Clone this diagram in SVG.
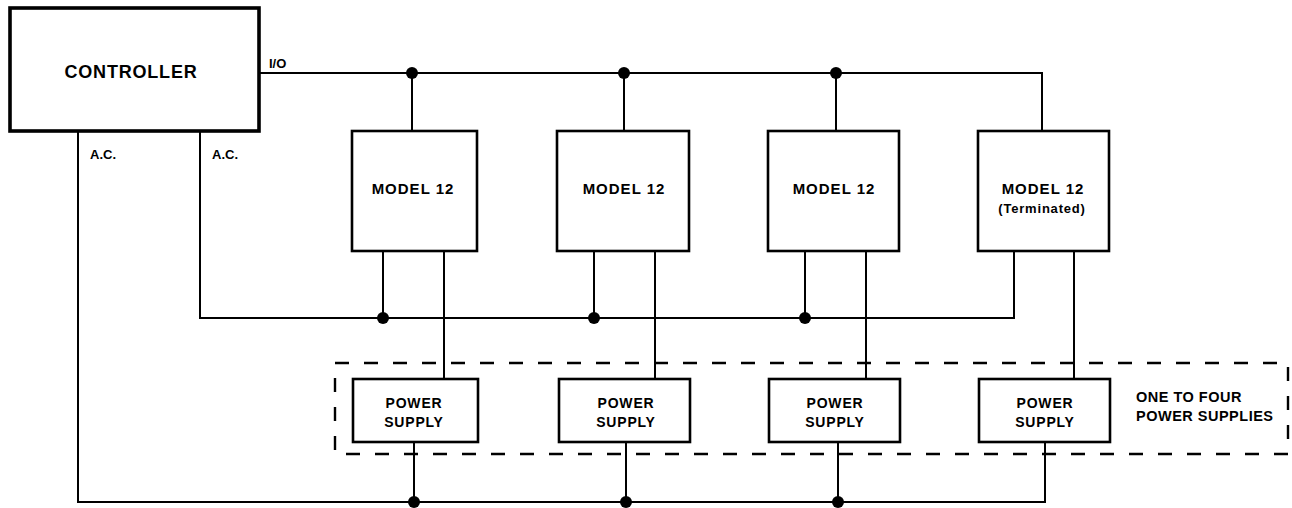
<svg xmlns="http://www.w3.org/2000/svg" width="1292" height="508" viewBox="0 0 1292 508">
<style>
.box{fill:#fff;stroke:#000;stroke-width:2.6}
.ctl{fill:#fff;stroke:#000;stroke-width:3.6}
.w{fill:none;stroke:#000;stroke-width:2}
.dash{fill:none;stroke:#000;stroke-width:2.4;stroke-dasharray:14 15}
.dot{fill:#000}
text{font-family:"Liberation Sans",Arial,sans-serif;font-weight:bold;fill:#000}
.big{font-size:18px;letter-spacing:0.8px}
.mid{font-size:15px;letter-spacing:1px}
.ps{font-size:14px;letter-spacing:0.8px}
.note{font-size:14.5px;letter-spacing:0.5px}
.sm{font-size:13px}
</style>
<rect width="1292" height="508" fill="#fff"/>
<g id="connectors">
<polyline class="w" points="259,73 1042,73 1042,131"/>
<line class="w" x1="412" y1="73" x2="412" y2="131"/>
<line class="w" x1="624" y1="73" x2="624" y2="131"/>
<line class="w" x1="836" y1="73" x2="836" y2="131"/>
<polyline class="w" points="200,131 200,318 1014,318 1014,251"/>
<line class="w" x1="383" y1="251" x2="383" y2="318"/>
<line class="w" x1="594" y1="251" x2="594" y2="318"/>
<line class="w" x1="805" y1="251" x2="805" y2="318"/>
<line class="w" x1="444" y1="251" x2="444" y2="379"/>
<line class="w" x1="655" y1="251" x2="655" y2="379"/>
<line class="w" x1="866" y1="251" x2="866" y2="379"/>
<line class="w" x1="1074" y1="251" x2="1074" y2="379"/>
<polyline class="w" points="78,131 78,502 1045,502 1045,442"/>
<line class="w" x1="414" y1="442" x2="414" y2="502"/>
<line class="w" x1="626" y1="442" x2="626" y2="502"/>
<line class="w" x1="838" y1="442" x2="838" y2="502"/>
<circle class="dot" cx="412" cy="73" r="6"/>
<circle class="dot" cx="624" cy="73" r="6"/>
<circle class="dot" cx="836" cy="73" r="6"/>
<circle class="dot" cx="383" cy="318" r="6"/>
<circle class="dot" cx="594" cy="318" r="6"/>
<circle class="dot" cx="805" cy="318" r="6"/>
<circle class="dot" cx="414" cy="502" r="6"/>
<circle class="dot" cx="626" cy="502" r="6"/>
<circle class="dot" cx="838" cy="502" r="6"/>
<text class="sm" x="269" y="68">I/O</text>
<text class="sm" x="90" y="159">A.C.</text>
<text class="sm" x="212" y="159">A.C.</text>
</g>
<g id="group-power">
<rect class="dash" x="335" y="363" width="953" height="91"/>
<text class="note" x="1136" y="402">ONE TO FOUR</text>
<text class="note" x="1136" y="421">POWER SUPPLIES</text>
</g>
<g id="controller">
<rect class="ctl" x="10" y="8" width="249" height="123"/>
<text class="big" x="131" y="78" text-anchor="middle">CONTROLLER</text>
</g>
<g id="model1">
<rect class="box" x="352" y="131" width="125" height="120"/>
<text class="mid" x="413" y="194" text-anchor="middle">MODEL 12</text>
</g>
<g id="model2">
<rect class="box" x="557" y="131" width="132" height="120"/>
<text class="mid" x="624" y="194" text-anchor="middle">MODEL 12</text>
</g>
<g id="model3">
<rect class="box" x="768" y="131" width="131" height="120"/>
<text class="mid" x="834" y="194" text-anchor="middle">MODEL 12</text>
</g>
<g id="model4">
<rect class="box" x="978" y="131" width="131" height="120"/>
<text class="mid" x="1043" y="194" text-anchor="middle">MODEL 12</text>
<text class="sm" x="1042" y="213" text-anchor="middle" style="letter-spacing:0.8px">(Terminated)</text>
</g>
<g id="ps1">
<rect class="box" x="353" y="379" width="125" height="63"/>
<text class="ps" x="414" y="408" text-anchor="middle">POWER</text>
<text class="ps" x="414" y="427" text-anchor="middle">SUPPLY</text>
</g>
<g id="ps2">
<rect class="box" x="559" y="379" width="131" height="63"/>
<text class="ps" x="626" y="408" text-anchor="middle">POWER</text>
<text class="ps" x="626" y="427" text-anchor="middle">SUPPLY</text>
</g>
<g id="ps3">
<rect class="box" x="769" y="379" width="131" height="63"/>
<text class="ps" x="835" y="408" text-anchor="middle">POWER</text>
<text class="ps" x="835" y="427" text-anchor="middle">SUPPLY</text>
</g>
<g id="ps4">
<rect class="box" x="979" y="379" width="131" height="63"/>
<text class="ps" x="1045" y="408" text-anchor="middle">POWER</text>
<text class="ps" x="1045" y="427" text-anchor="middle">SUPPLY</text>
</g>
</svg>
